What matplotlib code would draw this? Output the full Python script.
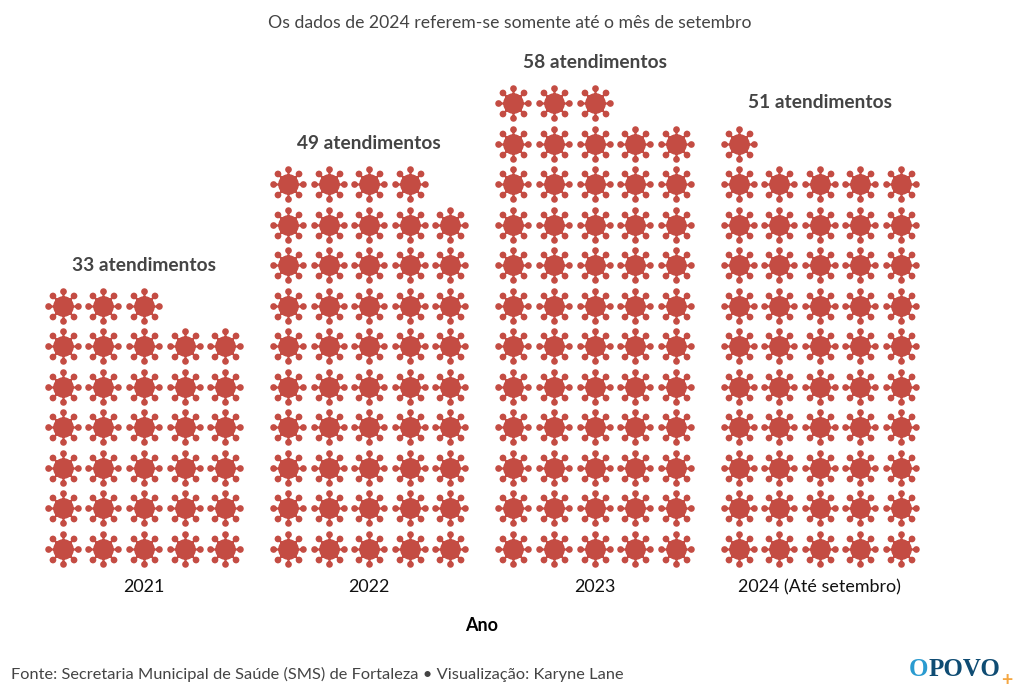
import numpy as np
import matplotlib
matplotlib.use("Agg")
import matplotlib.pyplot as plt
from matplotlib.path import Path
from matplotlib.transforms import Affine2D

years = ["2021", "2022", "2023", "2024 (Até setembro)"]
atendimentos = [33, 49, 58, 51]
title = "Os dados de 2024 referem-se somente até o mês de setembro"
source = "Fonte: Secretaria Municipal de Saúde (SMS) de Fortaleza • Visualização: Karyne Lane"

RED = "#c44c43"
W, H = 1020, 699
per_row = 5
col_step = 0.18
row_px = 40.55
base_px = 549
axis_px = 572

plt.rcParams["font.family"] = ["Lato", "DejaVu Sans"]


def virus_marker():
    parts = [Path.unit_circle().transformed(Affine2D().scale(10.2))]
    for ang in np.arange(0, 360, 45):
        ball = Affine2D().scale(3.3).translate(14.7, 0).rotate_deg(ang)
        spoke = Affine2D().scale(15, 2.2).translate(0, -1.1).rotate_deg(ang)
        parts.append(Path.unit_circle().transformed(ball))
        parts.append(Path.unit_rectangle().transformed(spoke))
    return Path.make_compound_path(*parts)


fig = plt.figure(figsize=(W / 100, H / 100), dpi=100)
ax = fig.add_axes([0, 1 - axis_px / H, 1, axis_px / H])
marker = virus_marker()

for i, n in enumerate(atendimentos):
    idx = np.arange(n)
    xs = i + (idx % per_row - 2) * col_step
    ys = idx // per_row
    ax.scatter(xs, ys, marker=marker, s=(36.5 * 0.72) ** 2, color=RED, linewidths=0)
    ax.text(i, ys.max() + 1.0, f"{n} atendimentos", ha="center", va="center",
            fontsize=13.8, fontweight="bold", color="#444444")

ax.set_xlim(-144 / 225.3, (W - 144) / 225.3)
ax.set_ylim((base_px - axis_px) / row_px, base_px / row_px)
ax.set_yticks([])
ax.set_xticks(range(len(years)), years)
ax.tick_params(axis="x", length=0, pad=5, labelsize=12.85, labelcolor="#111111")
ax.set_xlabel("Ano", x=482 / W, fontsize=13, fontweight="bold", labelpad=16, color="black")
for s in ax.spines.values():
    s.set_visible(False)

fig.text(510 / W, 1 - 23 / H, title, ha="center", va="center", fontsize=12.66, color="#444444")
fig.text(11 / W, 1 - 674 / H, source, ha="left", va="center", fontsize=11.76, color="#444444")

# logo
logo = dict(va="center", fontsize=18, fontweight="bold", family="Liberation Serif")
fig.text(909 / W, 1 - 669 / H, "O", color="#2a9bd0", ha="left", **logo)
fig.text(929 / W, 1 - 669 / H, "POVO", color="#0f4c73", ha="left", **logo)
fig.text(1007 / W, 1 - 680 / H, "+", color="#f5a742", ha="center", va="center", fontsize=14, fontweight="bold")

fig.savefig("out.png", dpi=100)
